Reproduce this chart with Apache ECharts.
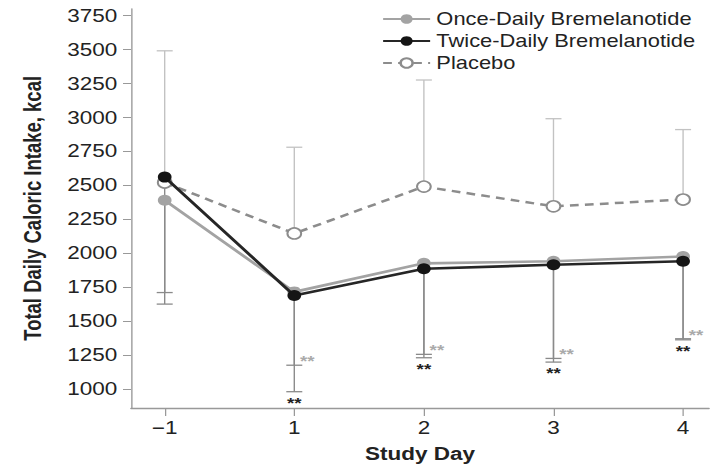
<!DOCTYPE html>
<html><head><meta charset="utf-8">
<script src="https://cdn.jsdelivr.net/npm/echarts@6/dist/echarts.min.js"></script>
<style>
html,body{margin:0;padding:0;background:#fff;overflow:hidden}
#wrap{width:710px;height:466px;overflow:hidden}
#c{width:568px;height:466px;transform:scaleX(1.25);transform-origin:0 0}
</style>
</head><body><div id="wrap"><div id="c"></div></div>
<script>
// Data
var dayLabels = ['\u22121', '1', '2', '3', '4'];
var dayIndex = [0, 1, 2, 3, 4];
var onceMean = [2390, 1715, 1925, 1940, 1975];
var twiceMean = [2560, 1688, 1885, 1915, 1940];
var placeboMean = [2520, 2145, 2490, 2345, 2395];
var placeboUpper = [3490, 2780, 3275, 2990, 2910];
var onceLower = [1710, 1175, 1255, 1225, 1370];
var twiceLower = [1625, 980, 1230, 1198, 1362];
var yTicks = [1000, 1250, 1500, 1750, 2000, 2250, 2500, 2750, 3000, 3250, 3500, 3750];
var onceSig = ['', '**', '**', '**', '**'];
var twiceSig = ['', '**', '**', '**', '**'];

var FONT = 'Liberation Sans, Arial, sans-serif';
var C_ONCE = '#a3a3a3', C_TWICE = '#262626', C_PLAC = '#8c8c8c';

function pairs(arr) { return dayIndex.map(function (d, i) { return [d, arr[i]]; }); }
function errData(mean, end) { return dayIndex.map(function (d, i) { return [d, mean[i], end[i]]; }); }
function errRender(color) {
  return function (params, api) {
    var p1 = api.coord([api.value(0), api.value(1)]);
    var p2 = api.coord([api.value(0), api.value(2)]);
    return { type: 'group', children: [
      { type: 'line', shape: { x1: p1[0], y1: p1[1], x2: p2[0], y2: p2[1] }, style: { stroke: color, lineWidth: 1.1 } },
      { type: 'line', shape: { x1: p2[0] - 6.4, y1: p2[1], x2: p2[0] + 6.4, y2: p2[1] }, style: { stroke: color, lineWidth: 1.3 } }
    ] };
  };
}
function sigRender(list, color, dx, dy) {
  return function (params, api) {
    var p = api.coord([api.value(0), api.value(1)]);
    return { type: 'text', x: p[0] + dx, y: p[1] + dy,
      style: { text: list[params.dataIndex], fill: color, font: 'bold 15px ' + FONT, align: 'center', verticalAlign: 'middle' } };
  };
}

var chart = echarts.init(document.getElementById('c'), null, { renderer: 'svg' });
chart.setOption({
  animation: false,
  textStyle: { fontFamily: FONT },
  grid: { left: 104.8, right: 0.8, top: 8.7, bottom: 58, outerBoundsMode: 'none', containLabel: false },
  legend: {
    orient: 'vertical', left: 300.5, top: 5, itemWidth: 37.6, itemHeight: 12, itemGap: 4,
    textStyle: { fontSize: 17.5, lineHeight: 18, color: '#222', fontFamily: FONT },
    data: ['Once-Daily Bremelanotide', 'Twice-Daily Bremelanotide', 'Placebo']
  },
  xAxis: {
    type: 'value', min: -0.26, max: 4.2,
    name: 'Study Day', nameLocation: 'middle', nameGap: 37,
    nameTextStyle: { fontSize: 18, fontWeight: 'bold', color: '#222' },
    axisLine: { onZero: false, lineStyle: { color: '#999', width: 1.3 } },
    axisTick: { length: 8, lineStyle: { color: '#999' }, customValues: dayIndex },
    axisLabel: { fontSize: 18, color: '#222', margin: 11, customValues: dayIndex,
      formatter: function (v) { return dayLabels[Math.round(v)]; } },
    splitLine: { show: false }
  },
  yAxis: {
    type: 'value', min: 860, max: 3800,
    name: 'Total Daily Caloric Intake, kcal', nameLocation: 'middle', nameGap: 69,
    nameTextStyle: { fontSize: 18.5, fontWeight: 'bold', color: '#222' },
    axisLine: { show: true, onZero: false, lineStyle: { color: '#999', width: 1.1 } },
    axisTick: { show: true, length: 6.4, lineStyle: { color: '#999' }, customValues: yTicks },
    axisLabel: { fontSize: 18, color: '#222', margin: 11, customValues: yTicks,
      formatter: function (v) { return String(v); } },
    splitLine: { show: false }
  },
  series: [
    { type: 'custom', name: 'errP', data: errData(placeboMean, placeboUpper), renderItem: errRender('#c2c2c2'), z: 1, silent: true },
    { type: 'custom', name: 'errO', data: errData(onceMean, onceLower), renderItem: errRender('#8a8a8a'), z: 1, silent: true },
    { type: 'custom', name: 'errT', data: errData(twiceMean, twiceLower), renderItem: errRender('#8a8a8a'), z: 1, silent: true },
    { type: 'custom', name: 'sigT', data: pairs(twiceLower), renderItem: sigRender(twiceSig, '#222', 0, 11), z: 2, silent: true },
    { type: 'custom', name: 'sigO', data: pairs(onceLower), renderItem: sigRender(onceSig, '#aaaaaa', 10.4, -4), z: 2, silent: true },
    { type: 'line', name: 'Placebo', data: pairs(placeboMean), z: 3,
      symbol: 'circle', symbolSize: 11,
      lineStyle: { color: C_PLAC, width: 2.5, type: [7, 5] },
      itemStyle: { color: '#fff', borderColor: C_PLAC, borderWidth: 1.6 } },
    { type: 'line', name: 'Once-Daily Bremelanotide', data: pairs(onceMean), z: 4,
      symbol: 'circle', symbolSize: 11,
      lineStyle: { color: C_ONCE, width: 2.6 }, itemStyle: { color: C_ONCE } },
    { type: 'line', name: 'Twice-Daily Bremelanotide', data: pairs(twiceMean), z: 5,
      symbol: 'circle', symbolSize: 11,
      lineStyle: { color: C_TWICE, width: 2.6 }, itemStyle: { color: '#151515' } }
  ]
});
</script></body></html>
